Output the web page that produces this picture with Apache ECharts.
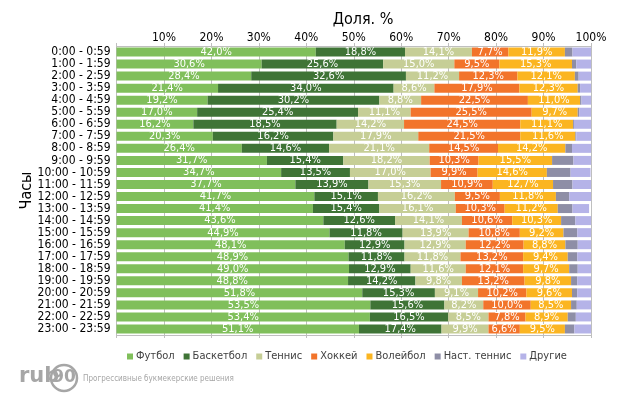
<!DOCTYPE html>
<html><head><meta charset="utf-8">
<script src="https://cdn.jsdelivr.net/npm/echarts@6/dist/echarts.min.js"></script>
<style>html,body{margin:0;padding:0;background:#fff}#c{width:618px;height:400px}</style>
</head><body><div id="c"></div>
<script>
const categories = ["0:00 - 0:59","1:00 - 1:59","2:00 - 2:59","3:00 - 3:59","4:00 - 4:59","5:00 - 5:59","6:00 - 6:59","7:00 - 7:59","8:00 - 8:59","9:00 - 9:59","10:00 - 10:59","11:00 - 11:59","12:00 - 12:59","13:00 - 13:59","14:00 - 14:59","15:00 - 15:59","16:00 - 16:59","17:00 - 17:59","18:00 - 18:59","19:00 - 19:59","20:00 - 20:59","21:00 - 21:59","22:00 - 22:59","23:00 - 23:59"];
const seriesNames = ["Футбол","Баскетбол","Теннис","Хоккей","Волейбол","Наст. теннис","Другие"];
const football   = [42.0,30.6,28.4,21.4,19.2,17.0,16.2,20.3,26.4,31.7,34.7,37.7,41.7,41.4,43.6,44.9,48.1,48.9,49.0,48.8,51.8,53.5,53.4,51.1];
const basketball = [18.8,25.6,32.6,37.0,36.2,33.9,30.2,25.4,18.4,16.1,14.5,15.4,13.4,14.0,15.1,15.4,12.6,11.8,13.0,14.2,15.3,15.6,16.5,17.4];
const basketballLabels = [18.8,25.6,32.6,34.0,30.2,25.4,18.5,16.2,14.6,15.4,13.5,13.9,15.1,15.4,12.6,11.8,12.9,11.8,12.9,14.2,15.3,15.6,16.5,17.4];
const tennis     = [14.1,15.0,11.2,8.6,8.8,11.1,14.2,17.9,21.1,18.2,17.0,15.3,16.2,16.1,14.1,13.9,12.9,11.8,11.6,9.8,9.1,8.2,8.5,9.9];
const hockey     = [7.7,9.5,12.3,17.9,22.5,25.5,24.5,21.5,14.5,10.3,9.9,10.9,9.5,10.3,10.6,10.8,12.2,13.2,12.1,13.2,10.2,10.0,7.8,6.6];
const volleyball = [11.9,15.3,12.1,12.3,11.0,9.7,11.1,11.6,14.2,15.5,14.6,12.7,11.8,11.2,10.3,9.2,8.8,9.4,9.7,9.8,9.6,8.5,8.9,9.5];
const tableTennis= [1.6,0.9,0.8,0.5,0.3,0.3,0.2,0.2,1.4,4.5,5.0,4.1,2.8,3.1,3.0,2.9,2.6,2.0,1.8,1.3,1.1,1.2,1.7,2.0];
const other      = [3.9,3.1,2.6,2.3,2.0,2.5,3.6,3.1,4.0,3.7,4.2,3.9,4.6,3.5,3.3,2.9,2.8,2.9,2.9,2.9,2.9,3.0,3.2,3.5];
const xTicks = ["","10%","20%","30%","40%","50%","60%","70%","80%","90%","100%"];

const colors = ["#80BF5B","#3F7436","#C6CE96","#F2742B","#FBB521","#8E8EA6","#B5B3E8"];
const FONT = "'Liberation Sans Narrow','DejaVu Sans Condensed',sans-serif";
const fmt = v => v.toFixed(1).replace('.', ',') + '%';

const data = [football, basketball, tennis, hockey, volleyball, tableTennis, other];
const labelSrc = [football, basketballLabels, tennis, hockey, volleyball, null, null];

const series = data.map((arr, i) => ({
  name: seriesNames[i],
  type: 'bar',
  stack: 'total',
  barWidth: 9,
  data: arr,
  itemStyle: {color: colors[i]},
  label: labelSrc[i] ? {
    show: true, position: 'inside', color: '#fff', fontSize: 11, fontFamily: FONT,
    formatter: p => fmt(labelSrc[i][p.dataIndex])
  } : {show: false},
  emphasis: {disabled: true}
}));

const chart = echarts.init(document.getElementById('c'), null, {renderer: 'canvas'});
chart.setOption({
  animation: false,
  grid: {left: 116.5, right: 27, top: 46, bottom: 65, containLabel: false, outerBoundsMode: 'none'},
  xAxis: [{
    type: 'value', position: 'top', min: 0, max: 100, interval: 10,
    axisLabel: {color: '#000', fontSize: 12, fontFamily: FONT, margin: 2,
      formatter: (v) => xTicks[Math.round(v / 10)]},
    axisLine: {show: true, lineStyle: {color: '#BFBFBF'}},
    axisTick: {show: true, length: 3, lineStyle: {color: '#BFBFBF'}},
    splitLine: {show: true, lineStyle: {color: '#BFBFBF', width: 1}}
  }, {
    type: 'value', position: 'bottom', min: 0, max: 100, interval: 10,
    axisLabel: {show: false},
    axisLine: {show: true, lineStyle: {color: '#BFBFBF'}},
    axisTick: {show: true, length: 3, lineStyle: {color: '#BFBFBF'}},
    splitLine: {show: false}
  }],
  yAxis: {
    type: 'category', data: categories, inverse: true,
    name: 'Часы', nameLocation: 'middle', nameGap: 82, nameRotate: 90, nameMoveOverlap: false,
    nameTextStyle: {fontSize: 16, color: '#000', fontFamily: FONT},
    axisLabel: {color: '#000', fontSize: 12, fontFamily: FONT, margin: 6, interval: 0},
    axisLine: {show: true, lineStyle: {color: '#BFBFBF'}},
    axisTick: {show: false}
  },
  legend: {
    top: 346, left: 122,
    itemWidth: 6, itemHeight: 6, itemGap: 9, icon: 'rect',
    textStyle: {fontSize: 11, color: '#404040', fontFamily: FONT, padding: [0,0,0,-2]},
    data: seriesNames
  },
  graphic: [
    {type: 'text', x: 363, y: 20, style: {text: 'Доля. %', textAlign: 'center', textVerticalAlign: 'middle', fontSize: 16, fill: '#000', fontFamily: FONT}},
    {type: 'text', left: 19, top: 366, style: {text: 'rub', fontSize: 21, fontWeight: 'bold', fill: '#A6A6A6', fontFamily: 'DejaVu Sans'}},
    {type: 'circle', shape: {cx: 64, cy: 378, r: 13}, style: {fill: 'none', stroke: '#A6A6A6', lineWidth: 2.5}},
    {type: 'text', x: 64, y: 378, style: {text: '90', textAlign: 'center', textVerticalAlign: 'middle', fontSize: 17, fontWeight: 'bold', fill: '#A6A6A6', fontFamily: 'DejaVu Sans'}},
    {type: 'text', left: 83, top: 375, style: {text: 'Прогрессивные букмекерские решения', fontSize: 8, fill: '#A6A6A6', fontFamily: FONT}}
  ],
  series: series
});
</script></body></html>
